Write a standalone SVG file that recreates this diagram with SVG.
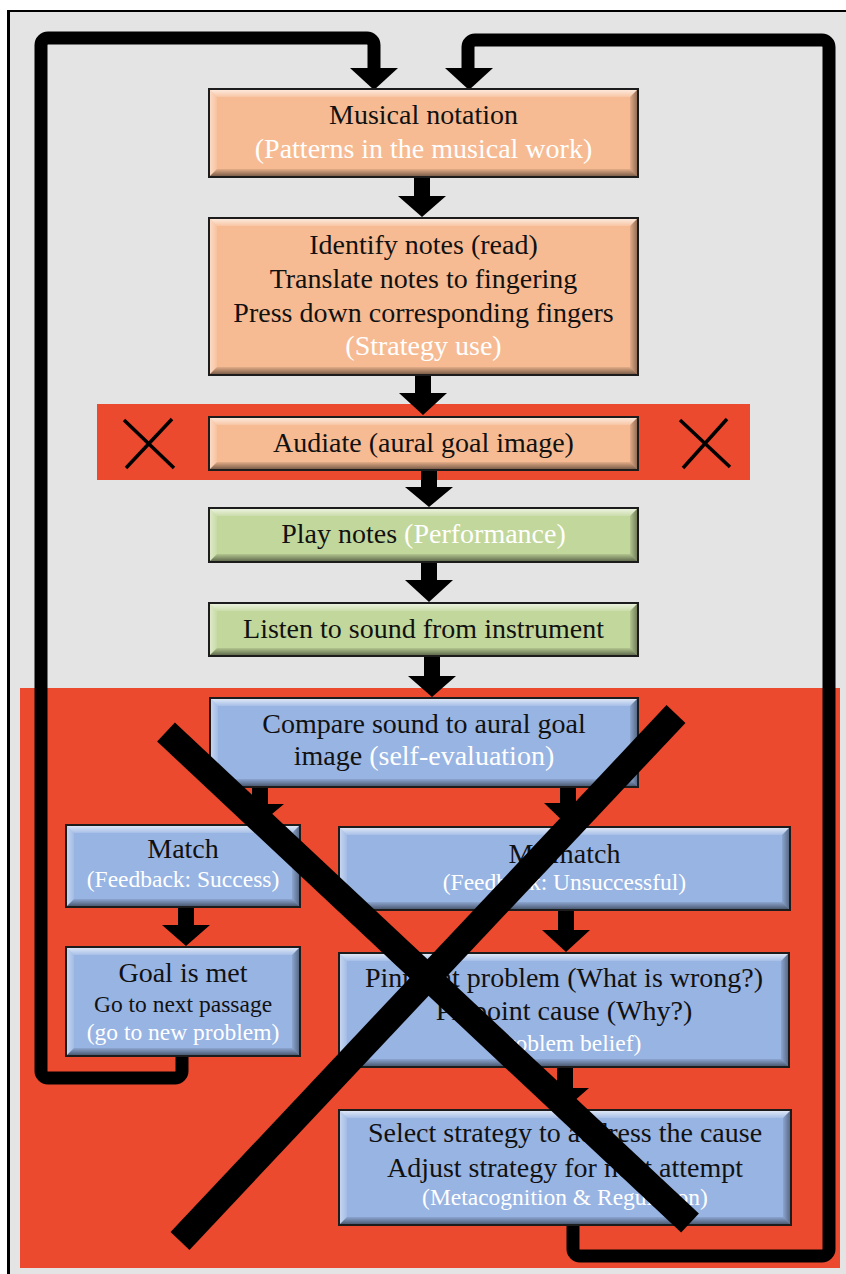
<svg xmlns="http://www.w3.org/2000/svg" width="846" height="1274" viewBox="0 0 846 1274">
  <defs>
    <linearGradient id="bvTop" x1="0" y1="0" x2="0" y2="1">
      <stop offset="0" stop-color="#fff" stop-opacity="0.75"/>
      <stop offset="1" stop-color="#fff" stop-opacity="0.15"/>
    </linearGradient>
    <linearGradient id="bvLeft" x1="0" y1="0" x2="1" y2="0">
      <stop offset="0" stop-color="#fff" stop-opacity="0.5"/>
      <stop offset="1" stop-color="#fff" stop-opacity="0.1"/>
    </linearGradient>
    <linearGradient id="bvRight" x1="0" y1="0" x2="1" y2="0">
      <stop offset="0" stop-color="#000" stop-opacity="0.08"/>
      <stop offset="1" stop-color="#000" stop-opacity="0.45"/>
    </linearGradient>
    <linearGradient id="bvBottom" x1="0" y1="0" x2="0" y2="1">
      <stop offset="0" stop-color="#000" stop-opacity="0.08"/>
      <stop offset="1" stop-color="#000" stop-opacity="0.55"/>
    </linearGradient>
  </defs>
  <style>
    .orange { fill: #f7bb93; }
    .green { fill: #c2d79b; }
    .blue { fill: #98b4e3; }
    .edge { fill: none; stroke: #1c1c1c; stroke-width: 2; }
    .bt { fill: url(#bvTop); }
    .bl { fill: url(#bvLeft); }
    .br { fill: url(#bvRight); }
    .bb { fill: url(#bvBottom); }
    .t { font-family: "Liberation Serif", "Times New Roman", serif; font-size: 28px; fill: #111; text-anchor: middle; }
    .s { font-size: 23.5px; }
    .w { fill: #fff; }
    .arrow { fill: #000; }
    .loop { fill: none; stroke: #000; stroke-width: 13; stroke-linejoin: round; }
    .thinx { stroke: #000; stroke-width: 3.5; }
    .bigx { stroke: #000; stroke-width: 26; }
  </style>

  <!-- page frame and panels -->
  <rect x="0" y="0" width="846" height="1274" fill="#fff"/>
  <rect x="8" y="11" width="838" height="1263" fill="#e4e4e4"/>
  <line x1="7" y1="11" x2="846" y2="11" stroke="#000" stroke-width="2"/>
  <line x1="8.5" y1="10" x2="8.5" y2="1274" stroke="#000" stroke-width="3"/>
  <rect x="20" y="688" width="820" height="580" fill="#ec4a2e"/>
  <rect x="97" y="404" width="653" height="76" fill="#ec4a2e"/>

  <!-- feedback loops -->
  <g id="connectors">
    <path class="loop" d="M182,1050 V1071 A7,7 0 0 1 175,1078 H48 A7,7 0 0 1 41,1071 V45 A7,7 0 0 1 48,38 H367 A7,7 0 0 1 374,45 V70"/>
    <path class="arrow" d="M350,68H398L374,90Z"/>
    <path class="loop" d="M573,1220 V1249 A7,7 0 0 0 580,1256 H822 A7,7 0 0 0 829,1249 V47 A7,7 0 0 0 822,40 H475 A7,7 0 0 0 468,47 V70"/>
    <path class="arrow" d="M445,68H493L469,90Z"/>

    <path class="arrow" d="M414,177H430V196H446L422,217L398,196H414Z"/>
    <path class="arrow" d="M415,375H431V393H447L423,415L399,393H415Z"/>
    <path class="arrow" d="M421,470H437V487H453L429,507L405,487H421Z"/>
    <path class="arrow" d="M421,562H437V580H453L429,602L405,580H421Z"/>
    <path class="arrow" d="M424,656H440V676H456L432,697L408,676H424Z"/>
    <path class="arrow" d="M252,787H268V804H284L260,824L236,804H252Z"/>
    <path class="arrow" d="M560,787H576V803H592L568,826L544,803H560Z"/>
    <path class="arrow" d="M178,907H194V925H210L186,946L162,925H178Z"/>
    <path class="arrow" d="M558,910H574V930H590L566,952L542,930H558Z"/>
    <path class="arrow" d="M557,1067H573V1088H589L565,1109L541,1088H557Z"/>
  </g>

  <g id="musical-notation">
    <rect class="orange" x="209" y="89" width="429" height="88"/>
    <path class="bt" d="M209,89H638L630,97H217Z"/>
    <path class="bl" d="M209,89L217,97V169L209,177Z"/>
    <path class="br" d="M630,97L638,89V177L630,169Z"/>
    <path class="bb" d="M217,169H630L638,177H209Z"/>
    <rect class="edge" x="209" y="89" width="429" height="88"/>
    <text class="t" x="423.5" y="124">Musical notation</text>
    <text class="t w" x="423.5" y="158">(Patterns in the musical work)</text>
  </g>

  <g id="strategy-use">
    <rect class="orange" x="209" y="218" width="429" height="157"/>
    <path class="bt" d="M209,218H638L630,226H217Z"/>
    <path class="bl" d="M209,218L217,226V367L209,375Z"/>
    <path class="br" d="M630,226L638,218V375L630,367Z"/>
    <path class="bb" d="M217,367H630L638,375H209Z"/>
    <rect class="edge" x="209" y="218" width="429" height="157"/>
    <text class="t" x="423.5" y="254">Identify notes (read)</text>
    <text class="t" x="423.5" y="288">Translate notes to fingering</text>
    <text class="t" x="423.5" y="322">Press down corresponding fingers</text>
    <text class="t w" x="423.5" y="355">(Strategy use)</text>
  </g>

  <g id="audiate">
    <rect class="orange" x="209" y="417" width="429" height="53"/>
    <path class="bt" d="M209,417H638L630,425H217Z"/>
    <path class="bl" d="M209,417L217,425V462L209,470Z"/>
    <path class="br" d="M630,425L638,417V470L630,462Z"/>
    <path class="bb" d="M217,462H630L638,470H209Z"/>
    <rect class="edge" x="209" y="417" width="429" height="53"/>
    <text class="t" x="423.5" y="452">Audiate (aural goal image)</text>
  </g>

  <g id="play-notes">
    <rect class="green" x="209" y="508" width="429" height="54"/>
    <path class="bt" d="M209,508H638L630,516H217Z"/>
    <path class="bl" d="M209,508L217,516V554L209,562Z"/>
    <path class="br" d="M630,516L638,508V562L630,554Z"/>
    <path class="bb" d="M217,554H630L638,562H209Z"/>
    <rect class="edge" x="209" y="508" width="429" height="54"/>
    <text class="t" x="423.5" y="543">Play notes <tspan class="w">(Performance)</tspan></text>
  </g>

  <g id="listen">
    <rect class="green" x="209" y="603" width="429" height="53"/>
    <path class="bt" d="M209,603H638L630,611H217Z"/>
    <path class="bl" d="M209,603L217,611V648L209,656Z"/>
    <path class="br" d="M630,611L638,603V656L630,648Z"/>
    <path class="bb" d="M217,648H630L638,656H209Z"/>
    <rect class="edge" x="209" y="603" width="429" height="53"/>
    <text class="t" x="423.5" y="638">Listen to sound from instrument</text>
  </g>

  <g id="compare">
    <rect class="blue" x="210" y="698" width="428" height="89"/>
    <path class="bt" d="M210,698H638L630,706H218Z"/>
    <path class="bl" d="M210,698L218,706V779L210,787Z"/>
    <path class="br" d="M630,706L638,698V787L630,779Z"/>
    <path class="bb" d="M218,779H630L638,787H210Z"/>
    <rect class="edge" x="210" y="698" width="428" height="89"/>
    <text class="t" x="424" y="733">Compare sound to aural goal</text>
    <text class="t" x="424" y="765">image <tspan class="w">(self-evaluation)</tspan></text>
  </g>

  <g id="match">
    <rect class="blue" x="66" y="825" width="234" height="82"/>
    <path class="bt" d="M66,825H300L292,833H74Z"/>
    <path class="bl" d="M66,825L74,833V899L66,907Z"/>
    <path class="br" d="M292,833L300,825V907L292,899Z"/>
    <path class="bb" d="M74,899H292L300,907H66Z"/>
    <rect class="edge" x="66" y="825" width="234" height="82"/>
    <text class="t" x="183" y="858">Match</text>
    <text class="t s w" x="183" y="887">(Feedback: Success)</text>
  </g>

  <g id="mismatch">
    <rect class="blue" x="339" y="827" width="451" height="83"/>
    <path class="bt" d="M339,827H790L782,835H347Z"/>
    <path class="bl" d="M339,827L347,835V902L339,910Z"/>
    <path class="br" d="M782,835L790,827V910L782,902Z"/>
    <path class="bb" d="M347,902H782L790,910H339Z"/>
    <rect class="edge" x="339" y="827" width="451" height="83"/>
    <text class="t" x="564.5" y="863">Mismatch</text>
    <text class="t s w" x="564.5" y="890">(Feedback: Unsuccessful)</text>
  </g>

  <g id="goal-met">
    <rect class="blue" x="66" y="947" width="234" height="109"/>
    <path class="bt" d="M66,947H300L292,955H74Z"/>
    <path class="bl" d="M66,947L74,955V1048L66,1056Z"/>
    <path class="br" d="M292,955L300,947V1056L292,1048Z"/>
    <path class="bb" d="M74,1048H292L300,1056H66Z"/>
    <rect class="edge" x="66" y="947" width="234" height="109"/>
    <text class="t" x="183" y="982">Goal is met</text>
    <text class="t s" x="183" y="1012">Go to next passage</text>
    <text class="t s w" x="183" y="1040">(go to new problem)</text>
  </g>

  <g id="pinpoint">
    <rect class="blue" x="339" y="953" width="450" height="114"/>
    <path class="bt" d="M339,953H789L781,961H347Z"/>
    <path class="bl" d="M339,953L347,961V1059L339,1067Z"/>
    <path class="br" d="M781,961L789,953V1067L781,1059Z"/>
    <path class="bb" d="M347,1059H781L789,1067H339Z"/>
    <rect class="edge" x="339" y="953" width="450" height="114"/>
    <text class="t" x="564" y="987">Pinpoint problem (What is wrong?)</text>
    <text class="t" x="564" y="1020">Pinpoint cause (Why?)</text>
    <text class="t s w" x="564" y="1051">(Problem belief)</text>
  </g>

  <g id="select-strategy">
    <rect class="blue" x="339" y="1110" width="452" height="115"/>
    <path class="bt" d="M339,1110H791L783,1118H347Z"/>
    <path class="bl" d="M339,1110L347,1118V1217L339,1225Z"/>
    <path class="br" d="M783,1118L791,1110V1225L783,1217Z"/>
    <path class="bb" d="M347,1217H783L791,1225H339Z"/>
    <rect class="edge" x="339" y="1110" width="452" height="115"/>
    <text class="t" x="565" y="1142">Select strategy to address the cause</text>
    <text class="t" x="565" y="1177">Adjust strategy for next attempt</text>
    <text class="t s w" x="565" y="1205">(Metacognition &amp; Regulation)</text>
  </g>

  <!-- crossed-out marks -->
  <g id="audiate-crosses">
    <line class="thinx" x1="124" y1="420" x2="174" y2="468"/>
    <line class="thinx" x1="172" y1="419" x2="126" y2="468"/>
    <line class="thinx" x1="680" y1="420" x2="730" y2="467"/>
    <line class="thinx" x1="727" y1="419" x2="683" y2="468"/>
  </g>
  <g id="big-cross">
    <line class="bigx" x1="166" y1="732" x2="690" y2="1223"/>
    <line class="bigx" x1="676" y1="714" x2="180" y2="1241"/>
  </g>
</svg>
